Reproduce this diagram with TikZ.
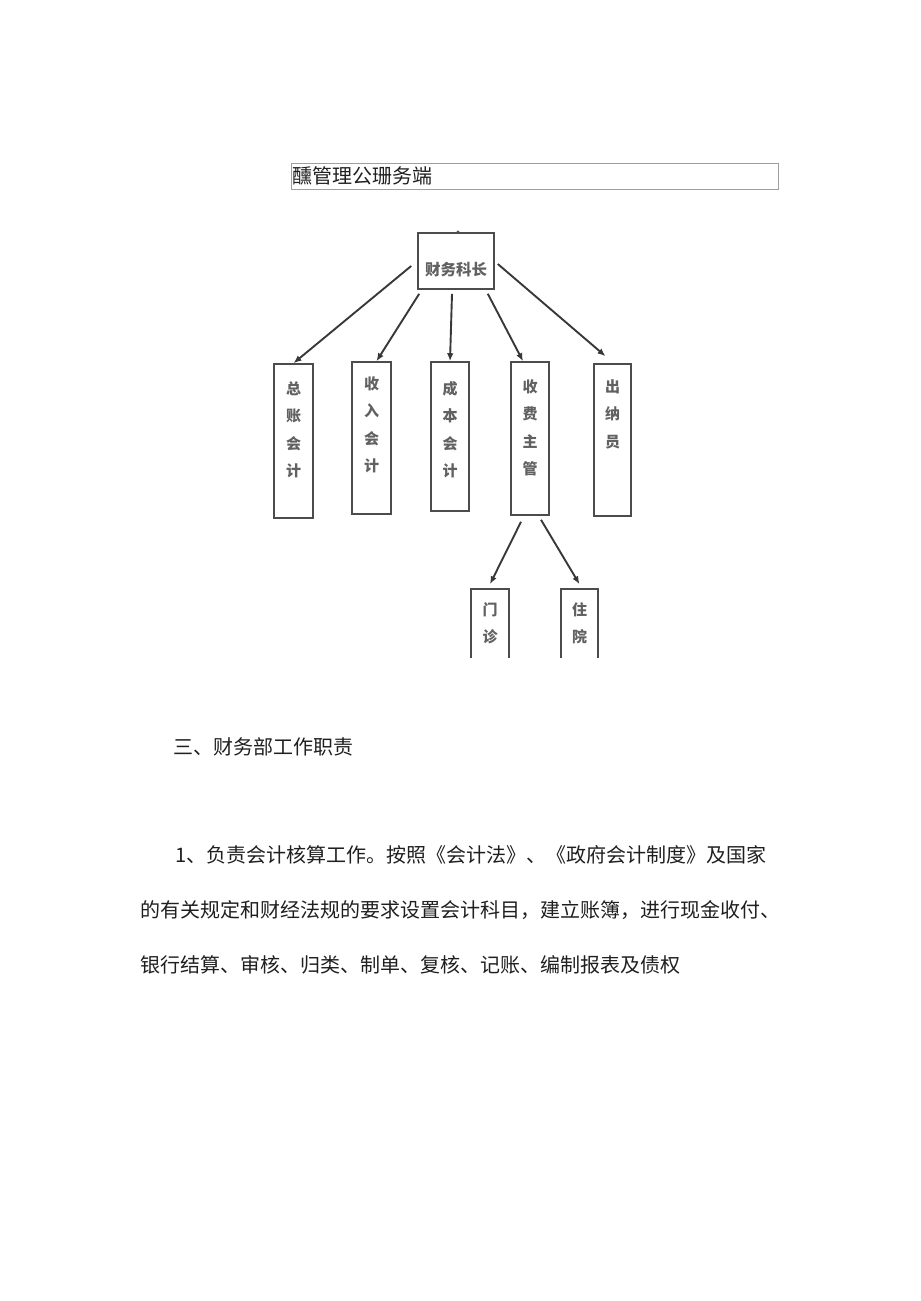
\documentclass[tikz,border=0pt]{standalone}
\usepackage{fontspec}
\setmainfont{Noto Sans CJK SC}
\usetikzlibrary{arrows.meta}

\definecolor{boxgray}{gray}{0.3}
\definecolor{arrgray}{gray}{0.22}
\definecolor{txtgray}{gray}{0.38}

\tikzset{
  orgbox/.style={draw=boxgray, line width=1.6bp, inner sep=0pt},
  orgtxt/.style={text=txtgray, font=\fontsize{15bp}{27.5bp}\selectfont\bfseries,
    align=center, inner sep=0pt, anchor=north},
  orgarrow/.style={draw=arrgray, line width=1.9bp, -{Latex[length=8bp,width=6.5bp]}},
  bodytxt/.style={anchor=west, inner sep=0pt, text=black!88,
    font=\fontsize{20bp}{20bp}\selectfont}
}

\begin{document}
\begin{tikzpicture}[x=1bp,y=-1bp]
  \useasboundingbox (0,0) rectangle (920,1301);

  % title bar
  \node[draw=gray!75, line width=0.8bp, minimum width=487bp, minimum height=26bp,
    inner sep=0pt] (bar) at (534.5,176) {};
  \node[bodytxt] (bar-t) at ([xshift=2bp]bar.west) {醺管理公珊务端};

  % head of the section
  \node[orgbox, minimum width=76bp, minimum height=56bp] (ks) at (456,261) {};
  \node[text=txtgray, inner sep=0pt, font=\fontsize{15.5bp}{15.5bp}\selectfont\bfseries]
    (ks-t) at ([yshift=-9bp]ks.center) {财务科长};
  \fill[boxgray] ([xshift=2bp]ks.north) circle (1.8bp);

  % first row of boxes
  \node[orgbox, minimum width=39bp, minimum height=154bp] (zz) at (293.5,441) {};
  \node[orgbox, minimum width=39bp, minimum height=152bp] (sr) at (371.5,438) {};
  \node[orgbox, minimum width=38bp, minimum height=149bp] (cb) at (450,436.5) {};
  \node[orgbox, minimum width=38bp, minimum height=153bp] (sf) at (530,438.5) {};
  \node[orgbox, minimum width=37bp, minimum height=152bp] (cn) at (612.5,440) {};

  \node[orgtxt] (zz-t) at ([yshift=-18bp]zz.north) {总\\账\\会\\计};
  \node[orgtxt] (sr-t) at ([yshift=-15bp]sr.north) {收\\入\\会\\计};
  \node[orgtxt] (cb-t) at ([yshift=-20bp]cb.north) {成\\本\\会\\计};
  \node[orgtxt] (sf-t) at ([yshift=-18bp]sf.north) {收\\费\\主\\管};
  \node[orgtxt] (cn-t) at ([yshift=-16bp]cn.north) {出\\纳\\员};

  % arrows from the head
  \draw[orgarrow] ([xshift=-6bp,yshift=-5bp]ks.west) -- (zz.north);
  \draw[orgarrow] ([xshift=2bp,yshift=-4bp]ks.south west) -- ([xshift=5bp]sr.north);
  \draw[orgarrow] ([xshift=-4bp,yshift=-4bp]ks.south) -- (cb.north);
  \draw[orgarrow] ([xshift=-7bp,yshift=-4bp]ks.south east) -- ([xshift=-7bp]sf.north);
  \draw[orgarrow] ([xshift=3bp,yshift=-3bp]ks.east) -- ([xshift=-7bp,yshift=7bp]cn.north);

  % second row, cut off at the edge of the scan
  \begin{scope}
    \clip (0,0) rectangle (920,657);
    \node[orgbox, minimum width=38bp, minimum height=111bp] (mz) at (490,644.5) {};
    \node[orgbox, minimum width=37bp, minimum height=111bp] (zy) at (579.5,644.5) {};
    \node[orgtxt] (mz-t) at ([yshift=-14bp]mz.north) {门\\诊};
    \node[orgtxt] (zy-t) at ([yshift=-14bp]zy.north) {住\\院};
  \end{scope}
  \draw[orgarrow] ([xshift=-9bp,yshift=-6bp]sf.south) -- ([yshift=4bp]mz.north);
  \draw[orgarrow] ([xshift=11bp,yshift=-4bp]sf.south) -- ([yshift=4bp]zy.north);

  % text below the chart
  \node[bodytxt] (h3) at (173,747) {三、财务部工作职责};
  \node[bodytxt] (p1) at (175,855) {1、负责会计核算工作。按照《会计法》、《政府会计制度》及国家};
  \node[bodytxt] (p2) at (140,910) {的有关规定和财经法规的要求设置会计科目，建立账簿，进行现金收付、};
  \node[bodytxt] (p3) at (140,965) {银行结算、审核、归类、制单、复核、记账、编制报表及债权};
\end{tikzpicture}
\end{document}
